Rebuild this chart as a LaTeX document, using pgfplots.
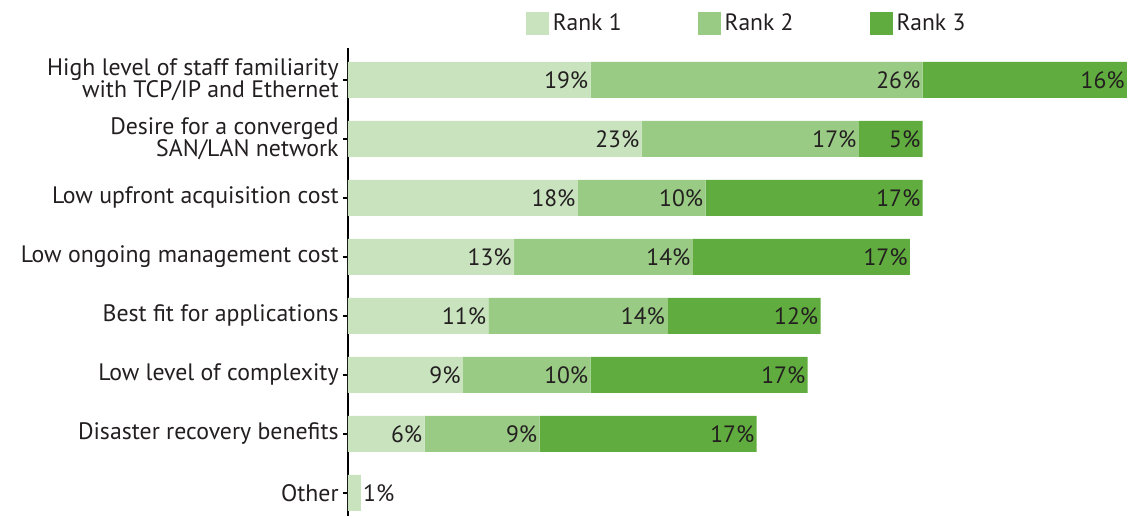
\documentclass[border=0pt]{standalone}
\usepackage{pgfplots}
\usepackage{pgfplotstable}
\pgfplotsset{compat=1.18}
\usepackage{fontspec}
\setmainfont{PT Sans}
\definecolor{rA}{RGB}{200,227,190}
\definecolor{rB}{RGB}{153,203,132}
\definecolor{rC}{RGB}{96,172,62}
\definecolor{txt}{RGB}{35,31,32}
\pgfplotstableread{
y v anc
7 19 0
6 23 0
5 18 0
4 13 0
3 11 0
2 9 0
1 6 0
0 1 1
}\rankA
\pgfplotstableread{
y v
7 26
6 17
5 10
4 14
3 14
2 10
1 9
}\rankB
\pgfplotstableread{
y v
7 16
6 5
5 17
4 17
3 12
2 17
1 17
}\rankC
\pgfplotsset{mylab/.style={visualization depends on={\thisrow{v} \as \segv},
  every node near coord/.append style={xshift={\segv*3.1926pt}}}}
\begin{document}
\begin{tikzpicture}
\begin{axis}[
 name=ax,
 xbar stacked,
 width=389.5pt, height=234pt, scale only axis,
 xmin=0, xmax=61,
 ymin=-0.39, ymax=7.54,
 bar width=18pt,
 axis x line=none,
 axis y line*=left,
 y axis line style={line width=1.1pt, black},
 ytick={0,...,7},
 yticklabels={Other, Disaster recovery benefits, Low level of complexity, Best fit for applications, Low ongoing management cost, Low upfront acquisition cost, {Desire for a converged\\[-1pt]SAN/LAN network}, {High level of staff familiarity\\[-1pt]with TCP/IP and Ethernet}},
 yticklabel style={align=right, font=\fontsize{11.9}{12}\selectfont, text=txt, inner xsep=2pt},
 y tick style={black, line width=0.7pt},
 major tick length=2.5pt,
 tick align=outside,
 /pgf/number format/assume math mode=true,
 point meta=explicit,
 nodes near coords={\pgfmathprintnumber{\pgfplotspointmeta}\%},
 every node near coord/.append style={anchor=east, inner xsep=1pt, font=\fontsize{11.8}{12}\selectfont, text=txt},
 legend style={at={(0.513,1.052)}, anchor=center, draw=none, fill=none, legend columns=3, font=\fontsize{11.8}{12}\selectfont, text=txt,
   /tikz/every even column/.append style={column sep=36pt}},
 legend image code/.code={\fill[#1] (0pt,-5.75pt) rectangle (11.5pt,5.75pt);},
]
\addplot[fill=rA, draw=none, mylab,
  visualization depends on={\thisrow{anc} \as \myanc},
  every node near coord/.append style={anchor={\ifdim\myanc pt>0.5pt west\else east\fi}}]
  table[x=v, y=y, meta=v] \rankA;
\addplot[fill=rB, draw=none, mylab] table[x=v, y=y, meta=v] \rankB;
\addplot[fill=rC, draw=none, mylab] table[x=v, y=y, meta=v] \rankC;
\legend{Rank 1, Rank 2, Rank 3}
\coordinate (BL) at (rel axis cs:0,0);
\coordinate (TR) at (rel axis cs:1,1);
\end{axis}
\pgfresetboundingbox
\path[use as bounding box] ([xshift=-174pt]BL) rectangle ([yshift=24pt]TR);
\end{tikzpicture}
\end{document}
